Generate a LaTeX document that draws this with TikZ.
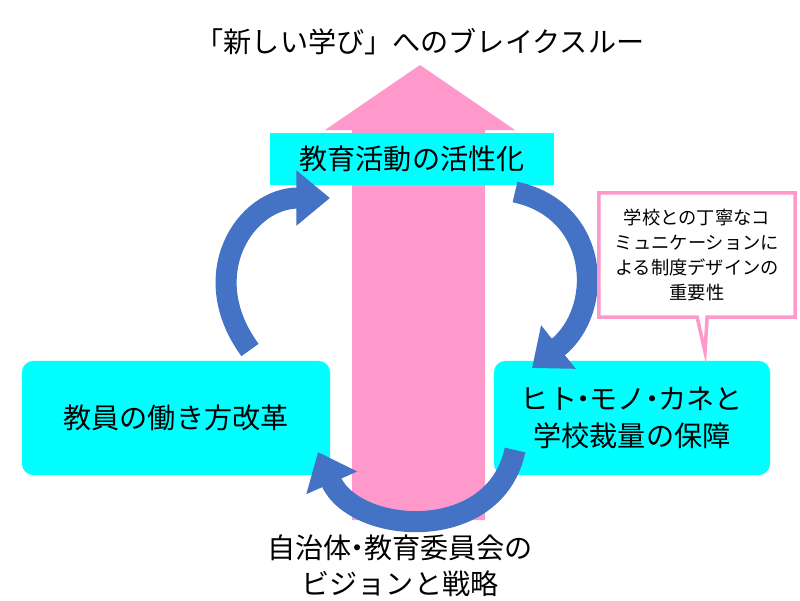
\documentclass[tikz,border=0pt]{standalone}
\usepackage{fontspec}
\setmainfont{Noto Sans CJK JP}
\usetikzlibrary{arrows.meta,shapes.callouts}
\definecolor{boxcyan}{RGB}{0,255,255}
\definecolor{pinkarrow}{RGB}{255,153,204}
\definecolor{cyclblue}{RGB}{68,114,196}
\newcommand{\hdot}{\makebox[0.45em]{・}}
\tikzset{
  cyanbox/.style={fill=boxcyan,draw=none,rounded corners=8pt,align=center,font=\fontsize{20}{26}\selectfont},
  cycarrow/.style={draw=cyclblue,line width=15pt,-{Triangle[length=24pt,width=38pt]}},
}
\begin{document}
\begin{tikzpicture}[x=0.025cm,y=-0.025cm]
     \useasboundingbox (0,0) rectangle (800,600);
     %上向きの矢印
     \fill[pinkarrow] (352,520) -- (485,520) -- (485,130) -- (515,130)
       -- (420,65) -- (325,130) -- (352,130) -- cycle;
     \node (title) at (420,42) [font=\fontsize{20}{24}\selectfont]{「新しい学び」へのブレイクスルー};
     %三つの箱
     \node (act) at (412,159) [cyanbox,rounded corners=0pt,minimum width=7.1cm,minimum height=1.3cm]{教育活動の活性化};
     \node (work) at (176,418) [cyanbox,minimum width=7.7cm,minimum height=2.85cm]{教員の働き方改革};
     \node (res) at (632,418) [cyanbox,minimum width=6.9cm,minimum height=2.85cm]{ヒト\hdot モノ\hdot カネと\\学校裁量の保障};
     %循環の矢印
     \draw[cycarrow] (250,350) .. controls (195,275) and (245,198) .. (330,198);
     \draw[cycarrow] (515,192) .. controls (600,210) and (605,310) .. (532,368);
     \draw[cycarrow] (515,450) .. controls (495,545) and (355,535) .. (318,452);
     %吹き出し
     \node (note) at (697,255) [rectangle callout,draw=pinkarrow,fill=white,line width=2.5pt,
       minimum width=4.9cm,minimum height=3.1cm,align=center,
       callout absolute pointer={(705,352)},font=\fontsize{13}{18}\selectfont]
       {学校との丁寧なコ\\ミュニケーションに\\よる制度デザインの\\重要性};
     \node (base) at (400,566) [align=center,font=\fontsize{20}{26}\selectfont]{自治体\hdot 教育委員会の\\ビジョンと戦略};
\end{tikzpicture}
\end{document}
